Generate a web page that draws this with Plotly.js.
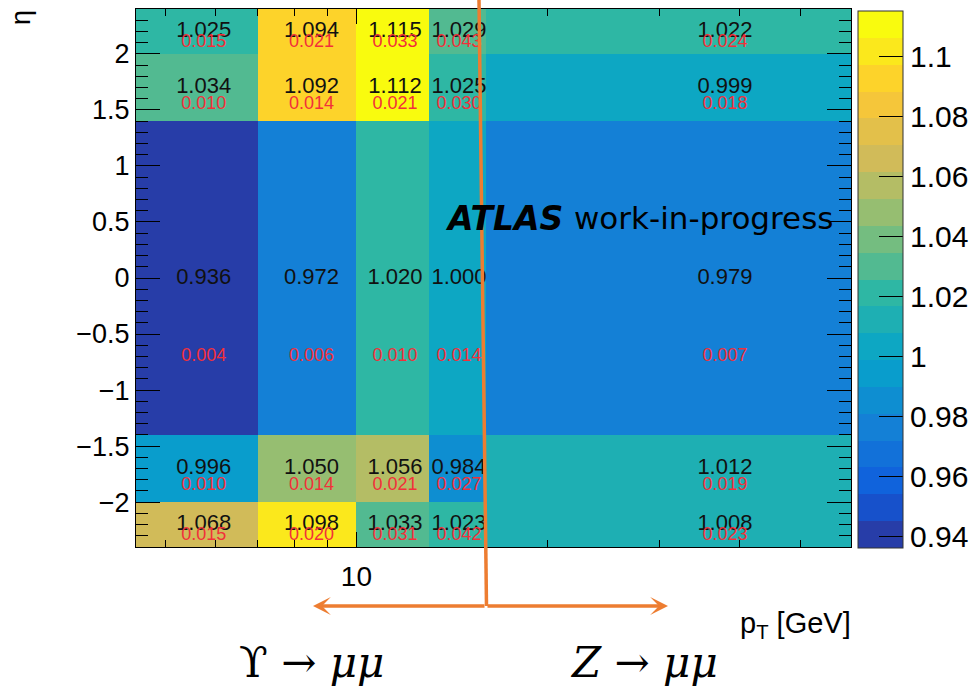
<!DOCTYPE html>
<html>
<head>
<meta charset="utf-8">
<script src="https://cdn.plot.ly/plotly-3.0.1.min.js"></script>
<style>
  html, body { margin: 0; padding: 0; background: #ffffff; }
  #chart { width: 974px; height: 688px; }
</style>
</head>
<body>
<div id="chart"></div>
<script>
// Binning: muon pT [GeV] (log axis) and eta
const ptEdges = [4.5, 7, 10, 13, 16, 60];
const etaEdges = [-2.4, -2.0, -1.4, 1.4, 2.0, 2.4];

// Scale factors, one row per eta bin (lowest eta first), one column per pT bin
const sfRow0 = [1.068, 1.098, 1.033, 1.023, 1.008];   // -2.4 < eta < -2.0
const sfRow1 = [0.996, 1.050, 1.056, 0.984, 1.012];   // -2.0 < eta < -1.4
const sfRow2 = [0.936, 0.972, 1.020, 1.000, 0.979];   // |eta| < 1.4
const sfRow3 = [1.034, 1.092, 1.112, 1.025, 0.999];   //  1.4 < eta < 2.0
const sfRow4 = [1.025, 1.094, 1.115, 1.029, 1.022];   //  2.0 < eta < 2.4

// Statistical uncertainties on the scale factors
const errRow0 = [0.015, 0.020, 0.031, 0.042, 0.023];
const errRow1 = [0.010, 0.014, 0.021, 0.027, 0.019];
const errRow2 = [0.004, 0.006, 0.010, 0.014, 0.007];
const errRow3 = [0.010, 0.014, 0.021, 0.030, 0.018];
const errRow4 = [0.015, 0.021, 0.033, 0.043, 0.024];

// Axis / palette labels
const ptTickVals = [10];
const ptTickText = ['10'];
const ptMinorVals = [5, 6, 7, 8, 9, 20, 30, 40, 50];
const zTickVals = [0.94, 0.96, 0.98, 1.00, 1.02, 1.04, 1.06, 1.08, 1.10];
const zTickText = ['0.94', '0.96', '0.98', '1', '1.02', '1.04', '1.06', '1.08', '1.1'];

const sfRows = [sfRow0, sfRow1, sfRow2, sfRow3, sfRow4];
const errRows = [errRow0, errRow1, errRow2, errRow3, errRow4];

// ---- ROOT kBird palette, 20 contour bands ----
const birdStops = [0.0, 0.125, 0.25, 0.375, 0.5, 0.625, 0.75, 0.875, 1.0];
const birdR = [0.2082, 0.0592, 0.0780, 0.0232, 0.1802, 0.5301, 0.8186, 0.9956, 0.9764];
const birdG = [0.1664, 0.3599, 0.5041, 0.6419, 0.7178, 0.7492, 0.7328, 0.7862, 0.9832];
const birdB = [0.5293, 0.8684, 0.8385, 0.7914, 0.6425, 0.4662, 0.3499, 0.1968, 0.0539];
function bird(t) {
  let k = 0;
  while (k < birdStops.length - 2 && t > birdStops[k + 1]) k++;
  const f = (t - birdStops[k]) / (birdStops[k + 1] - birdStops[k]);
  const c = (arr) => Math.round(255 * (arr[k] + f * (arr[k + 1] - arr[k])));
  return 'rgb(' + c(birdR) + ',' + c(birdG) + ',' + c(birdB) + ')';
}
const nContours = 20;
const nColors = 255;
const colorscale = [];
for (let i = 0; i < nContours; i++) {
  const idx = Math.floor((i + 0.99) * nColors / nContours);
  const col = bird(Math.min(idx, nColors - 1) / (nColors - 1));
  colorscale.push([i / nContours, col]);
  colorscale.push([(i + 1) / nContours, col]);
}

const allSf = sfRows.flat();
const zMin = Math.min(...allSf);
const zMax = Math.max(...allSf);

// ---- cell labels: value at bin centre, uncertainty a quarter up from the bin bottom ----
const valX = [], valY = [], valT = [];
const errX = [], errY = [], errT = [];
for (let r = 0; r < sfRows.length; r++) {
  const lo = etaEdges[r], hi = etaEdges[r + 1];
  for (let c = 0; c < ptEdges.length - 1; c++) {
    const xc = 0.5 * (ptEdges[c] + ptEdges[c + 1]);
    valX.push(xc); valY.push(0.5 * (lo + hi)); valT.push(sfRows[r][c].toFixed(3));
    errX.push(xc); errY.push(lo + 0.25 * (hi - lo)); errT.push(errRows[r][c].toFixed(3));
  }
}

// ---- page geometry helpers (pixel -> paper) ----
const W = 974, H = 688;
const M = { l: 136, r: 123, t: 9, b: 141, autoexpand: false };
const PW = W - M.l - M.r, PH = H - M.t - M.b;
const px = (x) => (x - M.l) / PW;
const py = (y) => (H - M.b - y) / PH;

const sans = 'Liberation Sans, Arial, Helvetica, sans-serif';
const serif = 'DejaVu Serif, Liberation Serif, serif';
const orange = '#ED7D31';

const heat = {
  type: 'heatmap',
  x: ptEdges,
  y: etaEdges,
  z: sfRows,
  zmin: zMin,
  zmax: zMax,
  colorscale: colorscale,
  zsmooth: false,
  hoverinfo: 'skip',
  colorbar: {
    thickness: 45, thicknessmode: 'pixels',
    len: 537, lenmode: 'pixels',
    x: px(858), xanchor: 'left', xref: 'paper', xpad: 0,
    y: py(11), yanchor: 'top', yref: 'paper', ypad: 0,
    outlinewidth: 1, outlinecolor: '#333333',
    tickmode: 'array', tickvals: zTickVals, ticktext: zTickText,
    ticks: 'inside', ticklen: 24, tickwidth: 1, tickcolor: '#000000',
    tickfont: { family: sans, size: 30, color: '#000000' }
  }
};

const valText = {
  type: 'scatter', mode: 'text',
  x: valX, y: valY, text: valT,
  textposition: 'middle center',
  textfont: { family: sans, size: 22, color: '#111111' },
  hoverinfo: 'skip', showlegend: false
};

const errText = {
  type: 'scatter', mode: 'text',
  x: errX, y: errY, text: errT,
  textposition: 'middle center',
  textfont: { family: sans, size: 18, color: '#f2303a' },
  hoverinfo: 'skip', showlegend: false
};

const layout = {
  width: W, height: H,
  margin: M,
  paper_bgcolor: '#ffffff',
  plot_bgcolor: '#ffffff',
  showlegend: false,
  font: { family: sans, color: '#000000' },
  xaxis: {
    type: 'log',
    range: [Math.log10(ptEdges[0]), Math.log10(ptEdges[ptEdges.length - 1])],
    tickmode: 'array', tickvals: ptTickVals, ticktext: ptTickText,
    ticks: 'inside', ticklen: 15, tickwidth: 1, tickcolor: '#000000',
    minor: { tickmode: 'array', tickvals: ptMinorVals, ticks: 'inside', ticklen: 7, tickwidth: 1, tickcolor: '#000000', showgrid: false },
    tickfont: { family: sans, size: 28, color: '#000000' },
    ticklabelstandoff: 4,
    showline: true, linecolor: '#000000', linewidth: 1, mirror: 'ticks',
    showgrid: false, zeroline: false, fixedrange: true
  },
  yaxis: {
    range: [etaEdges[0], etaEdges[etaEdges.length - 1]],
    tickmode: 'linear', tick0: 0, dtick: 0.5,
    ticks: 'inside', ticklen: 24, tickwidth: 1, tickcolor: '#000000',
    minor: { dtick: 0.1, tick0: 0, ticks: 'inside', ticklen: 12, tickwidth: 1, tickcolor: '#000000', showgrid: false },
    tickfont: { family: sans, size: 27, color: '#000000' },
    ticklabelstandoff: 0,
    showline: true, linecolor: '#000000', linewidth: 1, mirror: 'ticks',
    showgrid: false, zeroline: false, fixedrange: true
  },
  shapes: [
    // boundary between the two calibration samples
    { type: 'line', xref: 'paper', yref: 'paper',
      x0: px(479), y0: py(0), x1: px(486.5), y1: py(606),
      line: { color: orange, width: 3.5 }, layer: 'above' }
  ],
  annotations: [
    { xref: 'paper', yref: 'paper', x: px(313), y: py(606), ax: 173, ay: 0,
      text: '', showarrow: true, arrowhead: 3, arrowsize: 0.85, arrowwidth: 3.5, arrowcolor: orange },
    { xref: 'paper', yref: 'paper', x: px(668), y: py(606), ax: -182, ay: 0,
      text: '', showarrow: true, arrowhead: 3, arrowsize: 0.85, arrowwidth: 3.5, arrowcolor: orange },
    { xref: 'paper', yref: 'paper', x: px(311), y: py(662), xanchor: 'center', yanchor: 'middle',
      text: 'ϒ → <i>μμ</i>', showarrow: false,
      font: { family: serif, size: 42, color: '#000000' } },
    { xref: 'paper', yref: 'paper', x: px(643.5), y: py(662), xanchor: 'center', yanchor: 'middle',
      text: '<i>Z</i> → <i>μμ</i>', showarrow: false,
      font: { family: serif, size: 42, color: '#000000' } },
    { xref: 'paper', yref: 'paper', x: px(853), y: py(625), xanchor: 'right', yanchor: 'middle',
      text: 'p<sub>T</sub> [GeV]', showarrow: false,
      font: { family: sans, size: 29, color: '#000000' } },
    { xref: 'paper', yref: 'paper', x: px(21), y: py(18), xanchor: 'center', yanchor: 'middle',
      text: 'η', textangle: -90, showarrow: false,
      font: { family: sans, size: 27, color: '#000000' } },
    { xref: 'paper', yref: 'paper', x: px(443), y: py(218), xanchor: 'left', yanchor: 'middle',
      text: '<b><i>ATLAS</i></b>', showarrow: false,
      font: { family: 'DejaVu Sans, sans-serif', size: 33, color: '#000000' } },
    { xref: 'paper', yref: 'paper', x: px(572), y: py(218), xanchor: 'left', yanchor: 'middle',
      text: 'work-in-progress', showarrow: false,
      font: { family: 'DejaVu Sans, sans-serif', size: 31, color: '#000000' } }
  ]
};

Plotly.newPlot('chart', [heat, valText, errText], layout, { displayModeBar: false, staticPlot: true });
</script>
</body>
</html>
